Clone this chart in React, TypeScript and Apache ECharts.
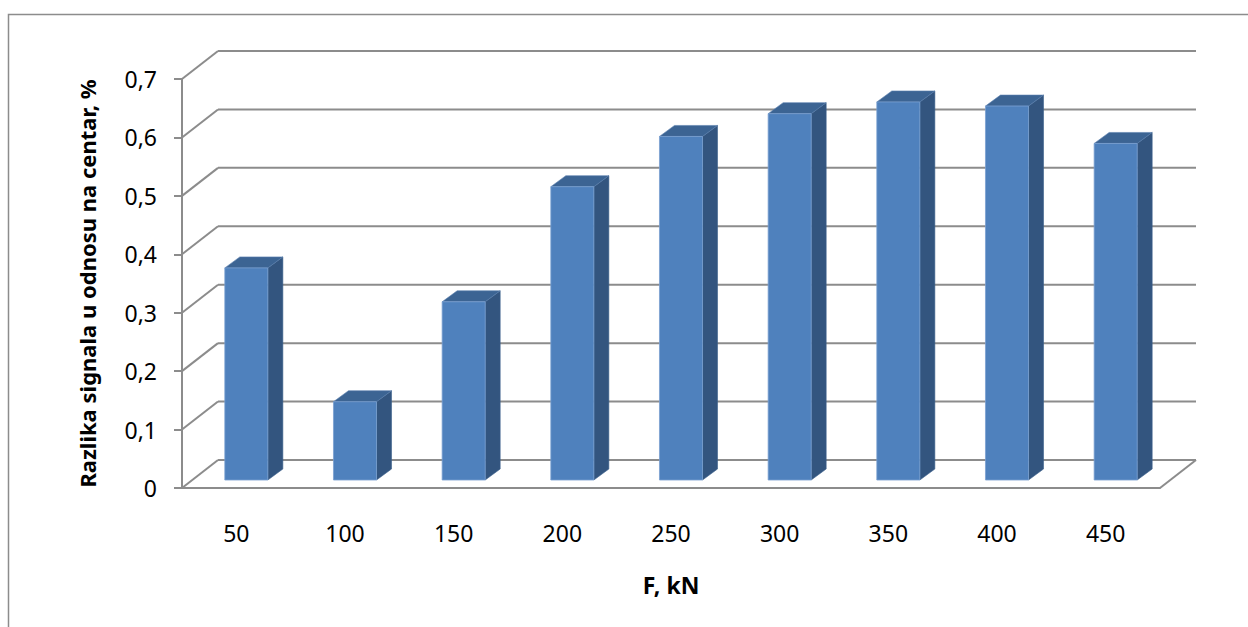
import React, { useEffect, useRef } from "react";
import * as echarts from "echarts";

const categories = ["50", "100", "150", "200", "250", "300", "350", "400", "450"];
const values = [0.363, 0.134, 0.305, 0.502, 0.588, 0.627, 0.647, 0.64, 0.576];
const yTicks = [0, 0.1, 0.2, 0.3, 0.4, 0.5, 0.6, 0.7];
const yAxisTitle = "Razlika signala u odnosu na centar, %";
const xAxisTitle = "F, kN";

export default function App() {
  const ref = useRef<HTMLDivElement>(null);
  useEffect(() => {
    const chart = echarts.init(ref.current!, null, { renderer: "svg" });
    const WALL_DX = 36, WALL_DY = -28;
    const BAR_DX = 10, BAR_DY = -8;
    const DEPTH_DX = 15, DEPTH_DY = -11;
    const BAR_RATIO = 0.396;
    const lineColor = "#8c8c8c";
    const font = "'Noto Sans', 'Liberation Sans', sans-serif";
    const lineStyle = { stroke: lineColor, lineWidth: 2 };

    chart.setOption({
      animation: false,
      textStyle: { fontFamily: font },
      graphic: [
        {
          type: "rect",
          shape: { x: 8.5, y: 14.5, width: 1400, height: 800 },
          style: { fill: "none", stroke: "#8c8c8c", lineWidth: 1.5 },
          silent: true,
          z: -10,
        },
      ],
      grid: { left: 182, right: 88, top: 79, bottom: 139, containLabel: false },
      xAxis: {
        type: "category",
        data: categories,
        boundaryGap: true,
        axisLine: { show: true, lineStyle: { color: lineColor, width: 2 } },
        axisTick: { show: false },
        axisLabel: { color: "#000", fontSize: 23, margin: 33, fontFamily: font },
        name: xAxisTitle,
        nameLocation: "middle",
        nameGap: 85,
        nameTextStyle: { color: "#000", fontSize: 23, fontWeight: "bold", fontFamily: font },
        splitLine: { show: false },
      },
      yAxis: {
        type: "value",
        min: 0,
        max: 0.7,
        interval: 0.1,
        axisLine: { show: true, lineStyle: { color: lineColor, width: 2 } },
        axisTick: { show: true, length: 8, lineStyle: { color: lineColor, width: 2 } },
        axisLabel: {
          color: "#000",
          fontSize: 23,
          margin: 25,
          fontFamily: font,
          formatter: (v: number) => (v === 0 ? "0" : v.toFixed(1).replace(".", ",")),
        },
        splitLine: { show: false },
        name: yAxisTitle,
        nameLocation: "middle",
        nameGap: 84,
        nameTextStyle: { color: "#000", fontSize: 22, fontWeight: "bold", fontFamily: font },
      },
      series: [
        {
          type: "custom",
          silent: true,
          clip: false,
          data: yTicks.map((v) => [0, v]),
          renderItem: (params: any, api: any) => {
            const cs = params.coordSys;
            const v = api.value(1);
            const y = api.coord([0, v])[1];
            const x0 = cs.x;
            const x1 = cs.x + cs.width;
            const children: any[] = [
              { type: "line", shape: { x1: x0, y1: y, x2: x0 + WALL_DX, y2: y + WALL_DY }, style: lineStyle },
              {
                type: "line",
                shape: { x1: x0 + WALL_DX, y1: y + WALL_DY, x2: x1 + WALL_DX, y2: y + WALL_DY },
                style: lineStyle,
              },
            ];
            if (v === 0) {
              children.push({
                type: "line",
                shape: { x1: x1, y1: y, x2: x1 + WALL_DX, y2: y + WALL_DY },
                style: lineStyle,
              });
            }
            return { type: "group", children };
          },
          z: 1,
        },
        {
          type: "custom",
          silent: true,
          clip: false,
          data: values.map((v, i) => [i, v]),
          renderItem: (params: any, api: any) => {
            const i = api.value(0);
            const v = api.value(1);
            const c0 = api.coord([i, 0]);
            const c1 = api.coord([i, v]);
            const bw = api.size([1, 0])[0] * BAR_RATIO;
            const xl = c0[0] - bw / 2 + BAR_DX;
            const xr = xl + bw;
            const yb = c0[1] + BAR_DY;
            const yt = c1[1] + BAR_DY;
            return {
              type: "group",
              children: [
                {
                  type: "polygon",
                  shape: {
                    points: [
                      [xr, yt],
                      [xr + DEPTH_DX, yt + DEPTH_DY],
                      [xr + DEPTH_DX, yb + DEPTH_DY],
                      [xr, yb],
                    ],
                  },
                  style: { fill: "#33557f", stroke: "#3a5f8c", lineWidth: 0.6 },
                },
                {
                  type: "polygon",
                  shape: {
                    points: [
                      [xl, yt],
                      [xl + DEPTH_DX, yt + DEPTH_DY],
                      [xr + DEPTH_DX, yt + DEPTH_DY],
                      [xr, yt],
                    ],
                  },
                  style: { fill: "#3c6493", stroke: "#5a7fae", lineWidth: 0.6 },
                },
                {
                  type: "rect",
                  shape: { x: xl, y: yt, width: bw, height: yb - yt },
                  style: { fill: "#4f81bd", stroke: "#7a9fd0", lineWidth: 0.8 },
                },
              ],
            };
          },
          z: 3,
        },
      ],
    });
    return () => chart.dispose();
  }, []);
  return <div ref={ref} style={{ position: "absolute", left: 0, top: 0, width: 1248, height: 627 }} />;
}
